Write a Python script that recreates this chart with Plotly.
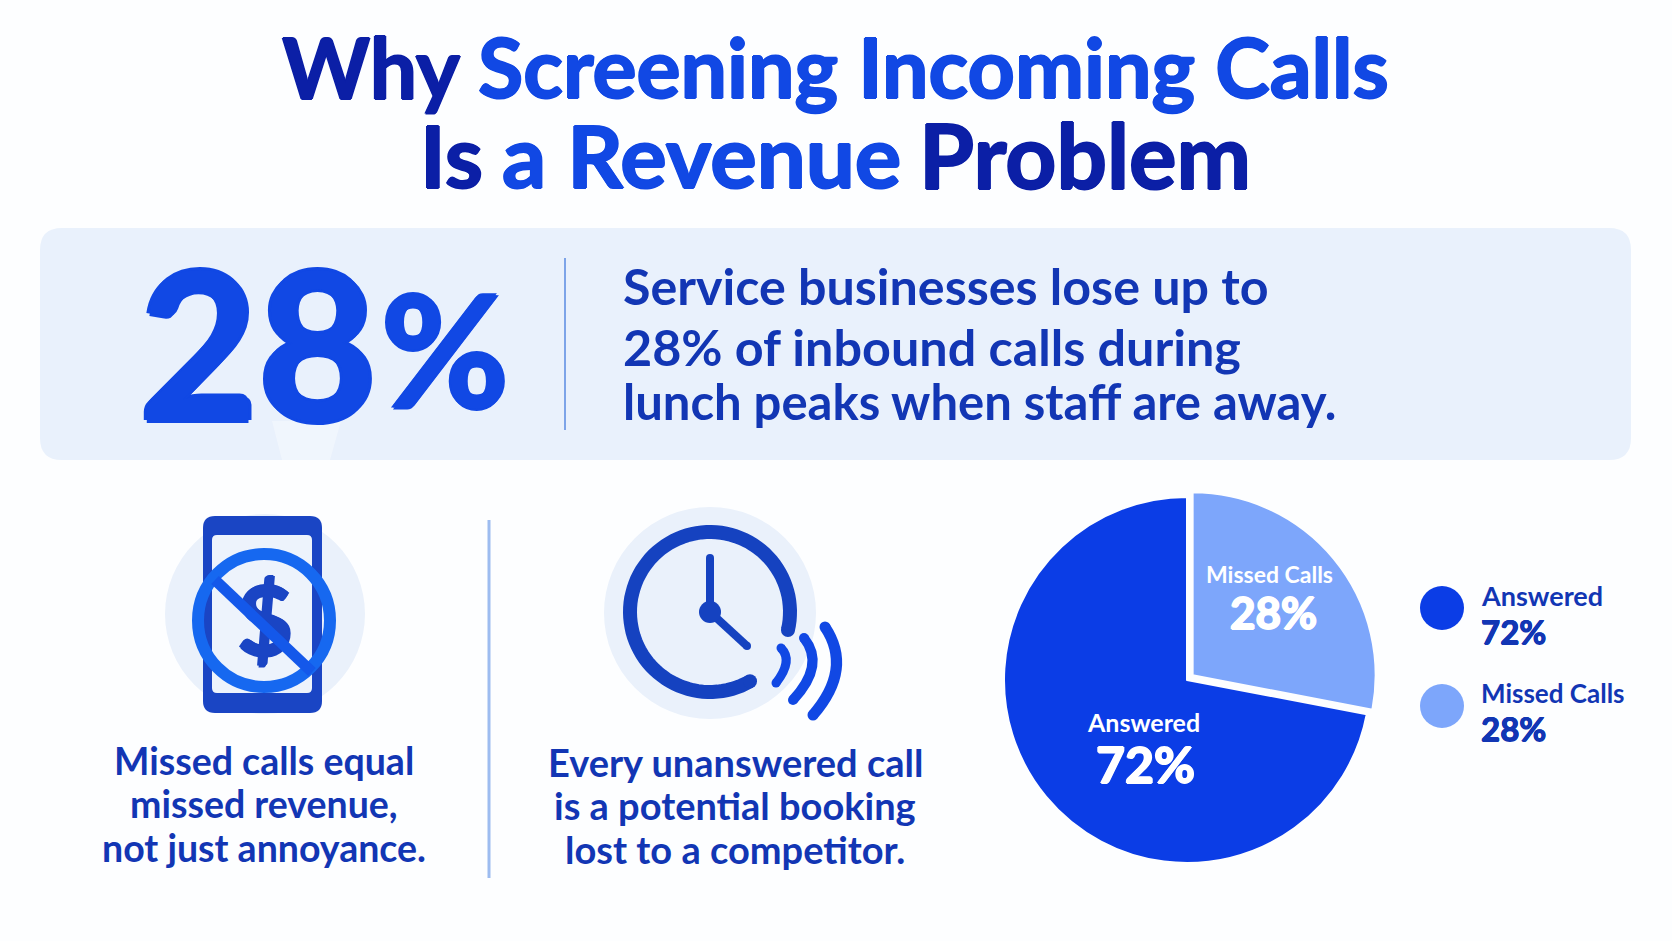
import numpy as np
import plotly.graph_objects as go

W, H = 1672, 941
FONT = "Lato"

# colours
DARK = "#0b1fa6"
BRIGHT = "#1148e4"
TEXT = "#1236b4"
PANEL = "#e9f1fc"
HALO = "#eaf1fb"
PHONE = "#1a45c4"
RING = "#1668f0"
CLOCK = "#1542c0"
BG = "#fdfeff"

# chart values
categories = ["Answered", "Missed Calls"]
shares = [72, 28]
slice_colors = ["#0b3de6", "#7da6fb"]

stat_value = "28"
stat_lines = ["Service businesses lose up to",
              "28% of inbound calls during",
              "lunch peaks when staff are away."]
left_lines = ["Missed calls equal", "missed revenue,", "not just annoyance."]
mid_lines = ["Every unanswered call", "is a potential booking", "lost to a competitor."]
title_runs = [("Why", DARK, 280, 66, 84), ("Screening Incoming Calls", BRIGHT, 476, 66, 82.5),
              ("Is", DARK, 418, 154, 87), ("a Revenue", BRIGHT, 500, 154, 87),
              ("Problem", DARK, 917, 154, 89)]


def fatten(color, px):
    """ Lato tops out below the reference weight, so thicken with a hard shadow """
    return ", ".join(f"{dx}px {dy}px 0 {color}" for dx, dy in
                     [(px, 0), (-px, 0), (0, px), (0, -px)])


def label(x, y, text, size, color=TEXT, anchor="center", thick=0):
    font = dict(family=FONT, size=size, color=color, weight=700)
    if thick:
        font["shadow"] = fatten(color, thick)
    return dict(x=x, y=y, xref="x", yref="y", text=text, showarrow=False,
                xanchor=anchor, yanchor="middle", font=font)


def round_rect(x0, y0, x1, y1, r):
    return (f"M{x0 + r},{y0} L{x1 - r},{y0} Q{x1},{y0} {x1},{y0 + r} L{x1},{y1 - r} "
            f"Q{x1},{y1} {x1 - r},{y1} L{x0 + r},{y1} Q{x0},{y1} {x0},{y1 - r} "
            f"L{x0},{y0 + r} Q{x0},{y0} {x0 + r},{y0} Z")


def disc(cx, cy, r, color, layer="below"):
    return dict(type="circle", xref="x", yref="y", x0=cx - r, x1=cx + r, y0=cy - r, y1=cy + r,
                fillcolor=color, line_width=0, layer=layer)


def stroke(path, color, width, layer="below"):
    return dict(type="path", xref="x", yref="y", path=path, line=dict(color=color, width=width),
                layer=layer)


def fill(path, color, layer="below", opacity=1):
    return dict(type="path", xref="x", yref="y", path=path, fillcolor=color, line_width=0,
                layer=layer, opacity=opacity)


def arc(cx, cy, r, start, end):
    t = np.radians(np.linspace(start, end, 90))
    pts = [f"{cx + r * np.cos(a):.1f},{cy + r * np.sin(a):.1f}" for a in t]
    return "M" + " L".join(pts)


def polar(cx, cy, r, deg):
    return cx + r * np.cos(np.radians(deg)), cy + r * np.sin(np.radians(deg))


def wave(p0, mid, p2, color, width):
    ctrl = (2 * mid[0] - (p0[0] + p2[0]) / 2, 2 * mid[1] - (p0[1] + p2[1]) / 2)
    path = f"M{p0[0]},{p0[1]} Q{ctrl[0]},{ctrl[1]} {p2[0]},{p2[1]}"
    return [stroke(path, color, width), disc(*p0, width / 2, color), disc(*p2, width / 2, color)]


shapes = [
    # stat panel
    fill(round_rect(40, 228, 1631, 460, 22), PANEL),
    fill("M272,421 L341,421 L330,460 L282,460 Z", "#ffffff", opacity=0.35),
    dict(type="line", xref="x", yref="y", x0=565, x1=565, y0=258, y1=430,
         line=dict(color="#7da4e8", width=2), layer="below"),
    dict(type="line", xref="x", yref="y", x0=489, x1=489, y0=520, y1=878,
         line=dict(color="#9dbcf0", width=3), layer="below"),
    # phone icon
    disc(265, 614, 100, HALO),
    fill(round_rect(203, 516, 322, 713, 12), PHONE),
    fill(round_rect(212, 535, 312, 693, 5), "#edf3fc"),
    dict(type="circle", xref="x", yref="y", x0=198, x1=330, y0=554, y1=687,
         line=dict(color=RING, width=12), layer="above"),
    dict(type="line", xref="x", yref="y", x0=215, x1=312, y0=580, y1=672,
         line=dict(color="#1458ea", width=11), layer="above"),
    # clock icon
    disc(710, 613, 106, HALO),
    stroke(arc(710, 612, 80, 13, -300), CLOCK, 14),
    disc(*polar(710, 612, 80, 13), 7, CLOCK),
    disc(*polar(710, 612, 80, 60), 7, CLOCK),
    dict(type="line", xref="x", yref="y", x0=710, x1=710, y0=558, y1=612,
         line=dict(color=CLOCK, width=8), layer="below"),
    dict(type="line", xref="x", yref="y", x0=710, x1=747, y0=612, y1=646,
         line=dict(color=CLOCK, width=8), layer="below"),
    disc(710, 558, 4, CLOCK),
    disc(747, 646, 4, CLOCK),
    disc(710, 612, 11, CLOCK),
]
shapes += wave((781, 648), (786, 663), (776, 683), BRIGHT, 9)
shapes += wave((804, 638), (812, 667), (793, 700), BRIGHT, 10)
shapes += wave((825, 627), (836, 670), (813, 715), BRIGHT, 11)

annotations = [label(x, y, text, size, color, "left", 1) for text, color, x, y, size in title_runs]
annotations += [
    label(258, 341, stat_value, 205, BRIGHT, thick=3),
    label(445, 347, "%", 156, BRIGHT, thick=2),
]
for y, size, line in zip([285, 346, 401], [50.2, 50.3, 49], stat_lines):
    annotations.append(label(621, y, line, size, anchor="left"))
for y, line in zip([760, 803, 847], left_lines):
    annotations.append(label(264, y, line, 37.5))
for y, line in zip([762, 805, 849], mid_lines):
    annotations.append(label(735, y, line, 38))

# pie labels and the hand-placed legend text
annotations += [
    label(1143, 722, categories[0], 25, "#ffffff"),
    label(1145, 764, f"{shares[0]}%", 50, "#ffffff", thick=1),
    label(1269, 574, categories[1], 23, "#ffffff"),
    label(1273, 612, f"{shares[1]}%", 44, "#ffffff", thick=1),
    label(1479, 595, categories[0], 27, anchor="left"),
    label(1479, 631, f"{shares[0]}%", 33, anchor="left", thick=0.5),
    label(1479, 693, categories[1], 26, anchor="left"),
    label(1479, 728, f"{shares[1]}%", 33, anchor="left", thick=0.5),
]

cx, cy, radius, pull = 1187, 680, 183, 0.04
outer = radius * (1 + pull)

fig = go.Figure()
fig.add_trace(go.Pie(
    labels=categories, values=shares, sort=False, direction="clockwise",
    rotation=360 * shares[1] / sum(shares), pull=[0, pull],
    marker=dict(colors=slice_colors, line=dict(color=BG, width=2)),
    textinfo="none", hoverinfo="label+percent", showlegend=False,
    domain=dict(x=[(cx - outer) / W, (cx + outer) / W],
                y=[1 - (cy + outer) / H, 1 - (cy - outer) / H]),
))
# dollar sign sits under the ring and slash, so it is a text trace not an annotation
fig.add_trace(go.Scatter(x=[265], y=[631], mode="text", text=["$"], hoverinfo="skip",
                         textfont=dict(family=FONT, size=96, color=PHONE, weight=700,
                                       shadow=fatten(PHONE, 1.5)),
                         showlegend=False))
# legend dots
fig.add_trace(go.Scatter(x=[1442, 1442], y=[608, 706], mode="markers", hoverinfo="skip",
                         marker=dict(size=44, color=slice_colors), showlegend=False))

fig.update_xaxes(visible=False, range=[0, W], fixedrange=True)
fig.update_yaxes(visible=False, range=[H, 0], fixedrange=True)
fig.update_layout(width=W, height=H, margin=dict(l=0, r=0, t=0, b=0),
                  paper_bgcolor=BG, plot_bgcolor=BG,
                  shapes=shapes, annotations=annotations)
fig.write_html("out.html", config={"displayModeBar": False},
               post_script="document.body.style.margin='0';document.documentElement.style.overflow='hidden';")
